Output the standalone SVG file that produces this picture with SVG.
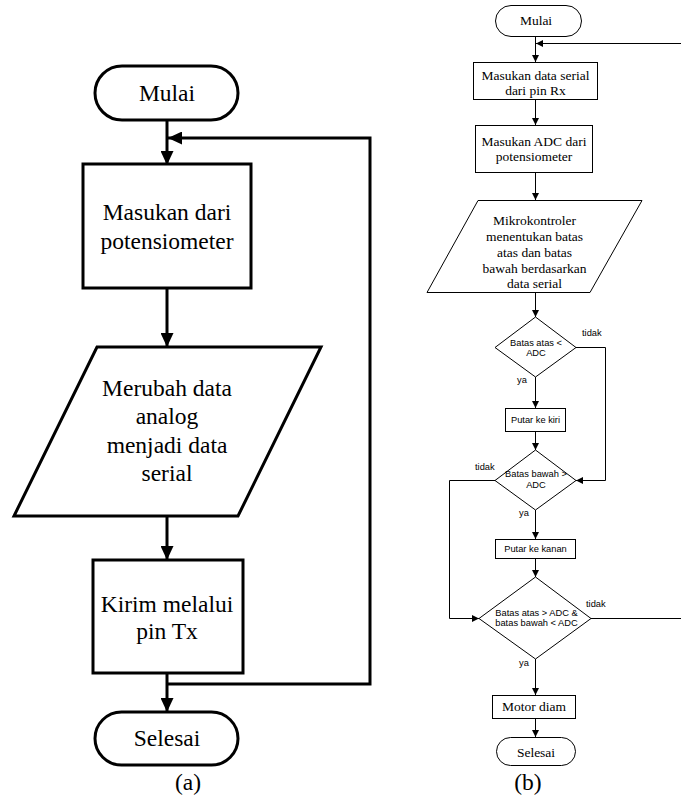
<svg xmlns="http://www.w3.org/2000/svg" width="681" height="802" viewBox="0 0 681 802">
<style>
.a{fill:#fff;stroke:#000;stroke-width:3}
.b{fill:#fff;stroke:#000;stroke-width:1}
.ca{fill:none;stroke:#000;stroke-width:3}
.cb{fill:none;stroke:#000;stroke-width:1}
.ta{font-family:'Liberation Serif','Times New Roman',Tinos,'DejaVu Serif',serif;font-size:23.5px;text-anchor:middle;fill:#000}
.tb{font-family:'Liberation Serif','Times New Roman',Tinos,'DejaVu Serif',serif;font-size:13.5px;text-anchor:middle;fill:#000}
.ts{font-family:'Liberation Sans',Arial,sans-serif;font-size:9.3px;text-anchor:middle;fill:#000}
.tl{font-family:'Liberation Sans',Arial,sans-serif;font-size:9.3px;fill:#000}
</style>
<defs>
<marker id="ma" markerUnits="userSpaceOnUse" markerWidth="15" markerHeight="13" refX="14" refY="6.5" orient="auto"><path d="M0,0 L14,6.5 L0,13 z" fill="#000"/></marker>
<marker id="mb" markerUnits="userSpaceOnUse" markerWidth="8" markerHeight="7" refX="7" refY="3.5" orient="auto"><path d="M0,0 L7,3.5 L0,7 z" fill="#000"/></marker>
</defs>
<rect width="681" height="802" fill="#fff"/>

<g id="connectors">
<line class="ca" x1="167" y1="120" x2="167" y2="165" marker-end="url(#ma)"/>
<path class="ca" d="M167,684 H370 V138 H168" marker-end="url(#ma)"/>
<line class="ca" x1="167" y1="288" x2="167" y2="347" marker-end="url(#ma)"/>
<line class="ca" x1="167" y1="516" x2="167" y2="560" marker-end="url(#ma)"/>
<line class="ca" x1="167" y1="673" x2="167" y2="712" marker-end="url(#ma)"/>
<line class="cb" x1="535.5" y1="37" x2="535.5" y2="62" marker-end="url(#mb)"/>
<path class="cb" d="M681,43.5 H536" marker-end="url(#mb)"/>
<line class="cb" x1="535.5" y1="100" x2="535.5" y2="125" marker-end="url(#mb)"/>
<line class="cb" x1="535.5" y1="173" x2="535.5" y2="200" marker-end="url(#mb)"/>
<line class="cb" x1="535.5" y1="293" x2="535.5" y2="317" marker-end="url(#mb)"/>
<line class="cb" x1="535.5" y1="377" x2="535.5" y2="408" marker-end="url(#mb)"/>
<path class="cb" d="M576,347.5 H605.5 V480.5 H576" marker-end="url(#mb)"/>
<line class="cb" x1="535.5" y1="432" x2="535.5" y2="450" marker-end="url(#mb)"/>
<path class="cb" d="M495,480.5 H449.5 V618.5 H479" marker-end="url(#mb)"/>
<line class="cb" x1="535.5" y1="510" x2="535.5" y2="539" marker-end="url(#mb)"/>
<line class="cb" x1="535.5" y1="559" x2="535.5" y2="577" marker-end="url(#mb)"/>
<path class="cb" d="M591,618.5 H681"/>
<line class="cb" x1="535.5" y1="659" x2="535.5" y2="695" marker-end="url(#mb)"/>
<line class="cb" x1="535.5" y1="719" x2="535.5" y2="737" marker-end="url(#mb)"/>
</g>

<g id="a-mulai">
<rect class="a" x="95" y="66" width="143" height="54" rx="27"/>
<text class="ta" x="167" y="101">Mulai</text>
</g>
<g id="a-masukan">
<rect class="a" x="83" y="164" width="168" height="124"/>
<text class="ta" x="167" y="220">Masukan dari</text>
<text class="ta" x="167" y="249">potensiometer</text>
</g>
<g id="a-merubah">
<polygon class="a" points="97,347 321,347 238,516 14,516"/>
<text class="ta" x="167" y="396">Merubah data</text>
<text class="ta" x="167" y="424">analog</text>
<text class="ta" x="167" y="453">menjadi data</text>
<text class="ta" x="167" y="481">serial</text>
</g>
<g id="a-kirim">
<rect class="a" x="93" y="560" width="150" height="113"/>
<text class="ta" x="167" y="612">Kirim melalui</text>
<text class="ta" x="167" y="639">pin Tx</text>
</g>
<g id="a-selesai">
<rect class="a" x="95" y="712" width="143" height="53" rx="26.5"/>
<text class="ta" x="167" y="746">Selesai</text>
</g>
<g id="label-a">
<text class="ta" x="188" y="790">(a)</text>
</g>

<g id="b-mulai">
<rect class="b" x="495.5" y="5.5" width="86" height="31" rx="15.5"/>
<text class="tb" x="536" y="25">Mulai</text>
</g>
<g id="b-serial">
<rect class="b" x="473.5" y="62.5" width="124" height="37"/>
<text class="tb" x="535.5" y="80">Masukan data serial</text>
<text class="tb" x="535.5" y="95">dari pin Rx</text>
</g>
<g id="b-adc">
<rect class="b" x="475.5" y="125.5" width="117" height="47"/>
<text class="tb" x="534" y="146">Masukan ADC dari</text>
<text class="tb" x="534" y="161">potensiometer</text>
</g>
<g id="b-mikro">
<polygon class="b" points="478,200.5 642,200.5 590,292.5 427,292.5"/>
<text class="tb" x="534.5" y="225">Mikrokontroler</text>
<text class="tb" x="534.5" y="241">menentukan batas</text>
<text class="tb" x="534.5" y="257">atas dan batas</text>
<text class="tb" x="534.5" y="273">bawah berdasarkan</text>
<text class="tb" x="534.5" y="288">data serial</text>
</g>
<g id="b-d1">
<polygon class="b" points="535.5,317 576,347.5 535.5,377 495,347.5"/>
<text class="ts" x="536" y="346">Batas atas &lt;</text>
<text class="ts" x="536" y="356">ADC</text>
<text class="tl" x="582" y="336">tidak</text>
<text class="tl" x="517" y="383">ya</text>
</g>
<g id="b-kiri">
<rect class="b" x="505.5" y="408.5" width="60" height="23"/>
<text class="ts" x="535.5" y="422.5">Putar ke kiri</text>
</g>
<g id="b-d2">
<polygon class="b" points="535.5,450 576,480.5 535.5,510 495,480.5"/>
<text class="ts" x="536" y="477">Batas bawah &gt;</text>
<text class="ts" x="536" y="488">ADC</text>
<text class="tl" x="475" y="470">tidak</text>
<text class="tl" x="519" y="516">ya</text>
</g>
<g id="b-kanan">
<rect class="b" x="495.5" y="539.5" width="80" height="19"/>
<text class="ts" x="535.5" y="552">Putar ke kanan</text>
</g>
<g id="b-d3">
<polygon class="b" points="535.5,577 591,618.5 535.5,659 479,618.5"/>
<text class="ts" x="536.5" y="616">Batas atas &gt; ADC &amp;</text>
<text class="ts" x="536.5" y="626">batas bawah &lt; ADC</text>
<text class="tl" x="586" y="607">tidak</text>
<text class="tl" x="519" y="666">ya</text>
</g>
<g id="b-motor">
<rect class="b" x="492.5" y="695.5" width="83" height="23"/>
<text class="tb" x="534" y="711">Motor diam</text>
</g>
<g id="b-selesai">
<rect class="b" x="496.5" y="737.5" width="79" height="28" rx="14"/>
<text class="tb" x="536" y="757">Selesai</text>
</g>
<g id="label-b">
<text class="ta" x="528" y="790">(b)</text>
</g>
</svg>
